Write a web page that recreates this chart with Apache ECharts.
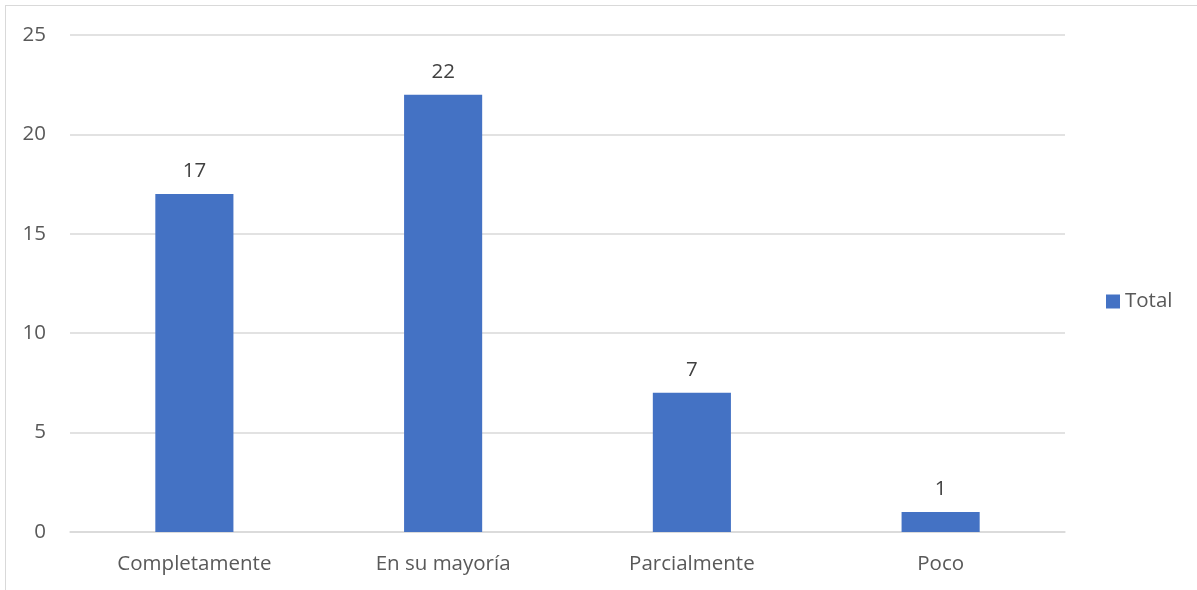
<!DOCTYPE html>
<html><head><meta charset="utf-8">
<script src="https://cdn.jsdelivr.net/npm/echarts@6/dist/echarts.min.js"></script>
<style>
html,body{margin:0;padding:0;background:#fff;overflow:hidden}
#frame{position:absolute;left:5px;top:5px;width:1300px;height:700px;border:1px solid #d9d9d9;box-sizing:border-box}
#c{position:absolute;left:0;top:0;width:1197px;height:590px}
</style></head>
<body><div id="frame"></div><div id="c"></div>
<script>
const categories = ['Completamente', 'En su mayoría', 'Parcialmente', 'Poco'];
const totalValues = [17, 22, 7, 1];
const seriesName = 'Total';
const chart = echarts.init(document.getElementById('c'));
const font = '"Open Sans", Lato, sans-serif';
chart.setOption({
  animation: false,
  textStyle: {fontFamily: font},
  grid: {left: 70, right: 132, top: 35, bottom: 58},
  legend: {
    data: [seriesName], orient: 'vertical', left: 1101, top: 286,
    itemWidth: 14, itemHeight: 14, itemGap: 5,
    icon: 'rect',
    textStyle: {fontSize: 20.5, color: '#595959', fontFamily: font}
  },
  xAxis: {
    type: 'category', data: categories,
    axisLine: {lineStyle: {color: '#d9d9d9', width: 1.5}},
    axisTick: {show: false},
    axisLabel: {fontSize: 20.5, color: '#595959', margin: 22, fontFamily: font}
  },
  yAxis: {
    type: 'value', min: 0, max: 25, interval: 5,
    axisLine: {show: false}, axisTick: {show: false},
    splitLine: {lineStyle: {color: '#d9d9d9', width: 1.5}},
    axisLabel: {fontSize: 20.5, color: '#595959', margin: 24, fontFamily: font}
  },
  series: [{
    name: seriesName, type: 'bar', data: totalValues, barWidth: '31.4%',
    itemStyle: {color: '#4472C4'},
    label: {show: true, position: 'top', distance: 12, fontSize: 20.5, color: '#404040', fontFamily: font}
  }]
});
</script></body></html>
